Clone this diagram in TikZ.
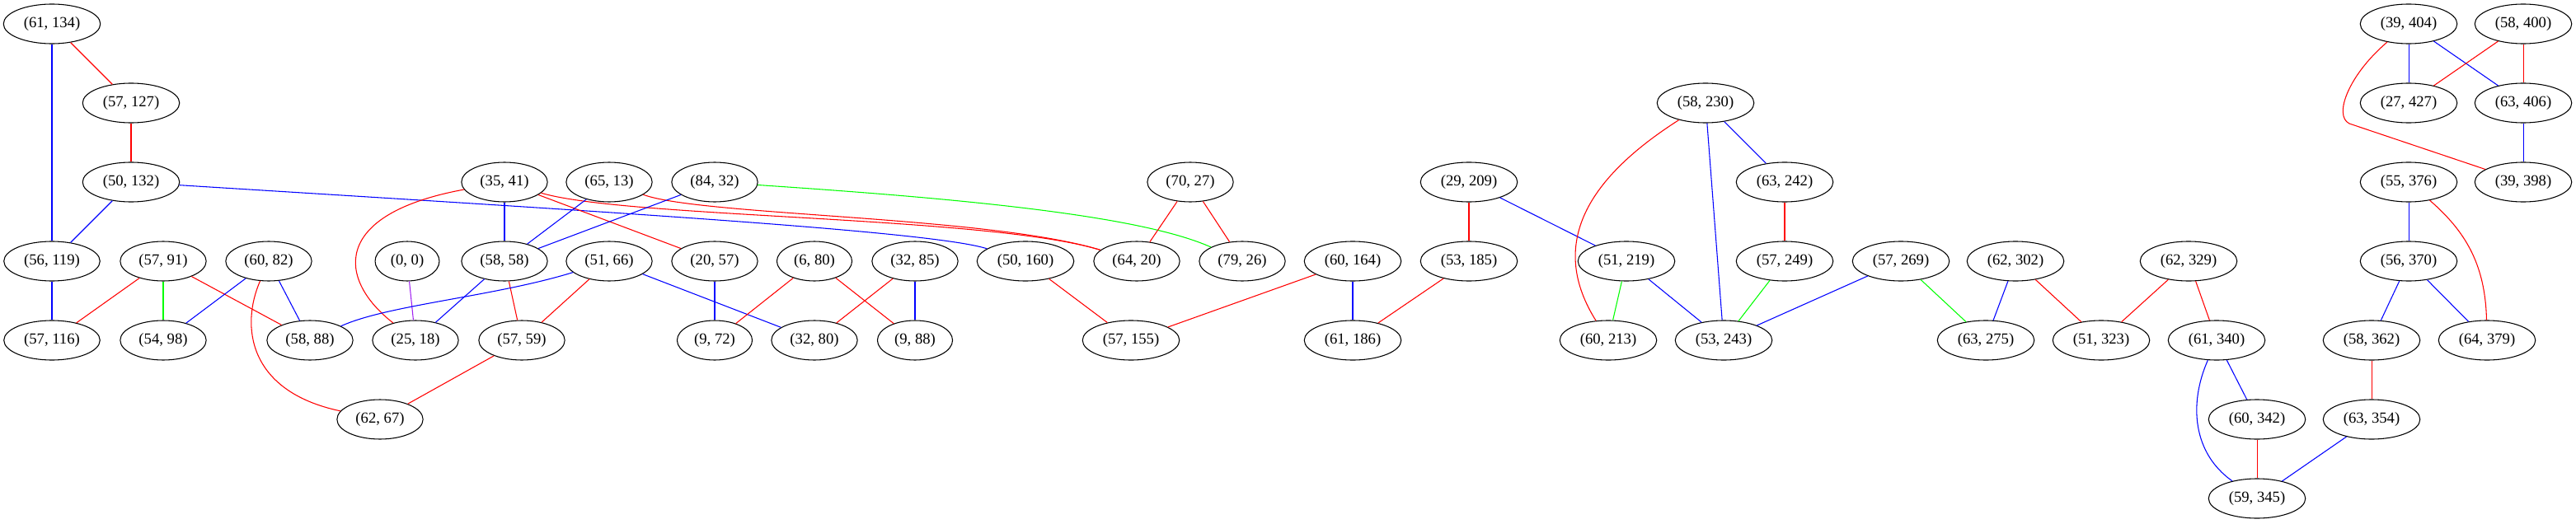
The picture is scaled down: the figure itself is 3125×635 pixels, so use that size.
\documentclass[tikz,border=0pt]{standalone}
\usepackage{fontspec}
\setmainfont{Liberation Serif}
\usetikzlibrary{shapes.geometric}
\definecolor{gvpurple}{HTML}{A020F0}

\begin{document}
\begin{tikzpicture}[x=0.75pt, y=-0.75pt,
    vert/.style={ellipse, draw, line width=0.8pt, inner xsep=5.5pt, inner ysep=0pt,
        minimum height=36pt, font=\fontsize{14}{16}\selectfont},
    e/.style={line width=0.8pt}]
    \useasboundingbox (0,0) rectangle (3125,635);
    \node[vert] (v61-134) at (63,29) {(61, 134)};
    \node[vert] (v39-404) at (2922,29) {(39, 404)};
    \node[vert] (v58-400) at (3061,29) {(58, 400)};
    \node[vert] (v57-127) at (159,125) {(57, 127)};
    \node[vert] (v58-230) at (2069,125) {(58, 230)};
    \node[vert] (v27-427) at (2922,125) {(27, 427)};
    \node[vert] (v63-406) at (3061,125) {(63, 406)};
    \node[vert] (v50-132) at (159,221) {(50, 132)};
    \node[vert] (v35-41) at (612,221) {(35, 41)};
    \node[vert] (v65-13) at (739,221) {(65, 13)};
    \node[vert] (v84-32) at (867,221) {(84, 32)};
    \node[vert] (v70-27) at (1444,221) {(70, 27)};
    \node[vert] (v29-209) at (1782,221) {(29, 209)};
    \node[vert] (v63-242) at (2165,221) {(63, 242)};
    \node[vert] (v55-376) at (2922,221) {(55, 376)};
    \node[vert] (v39-398) at (3061,221) {(39, 398)};
    \node[vert] (v56-119) at (63,317) {(56, 119)};
    \node[vert] (v57-91) at (198,317) {(57, 91)};
    \node[vert] (v60-82) at (326,317) {(60, 82)};
    \node[vert] (v0-0) at (494,317) {(0, 0)};
    \node[vert] (v58-58) at (612,317) {(58, 58)};
    \node[vert] (v51-66) at (739,317) {(51, 66)};
    \node[vert] (v20-57) at (867,317) {(20, 57)};
    \node[vert] (v6-80) at (988,317) {(6, 80)};
    \node[vert] (v32-85) at (1110,317) {(32, 85)};
    \node[vert] (v50-160) at (1244,317) {(50, 160)};
    \node[vert] (v64-20) at (1379,317) {(64, 20)};
    \node[vert] (v79-26) at (1507,317) {(79, 26)};
    \node[vert] (v60-164) at (1641,317) {(60, 164)};
    \node[vert] (v53-185) at (1782,317) {(53, 185)};
    \node[vert] (v51-219) at (1973,317) {(51, 219)};
    \node[vert] (v57-249) at (2165,317) {(57, 249)};
    \node[vert] (v57-269) at (2306,317) {(57, 269)};
    \node[vert] (v62-302) at (2445,317) {(62, 302)};
    \node[vert] (v62-329) at (2655,317) {(62, 329)};
    \node[vert] (v56-370) at (2922,317) {(56, 370)};
    \node[vert] (v57-116) at (63,413) {(57, 116)};
    \node[vert] (v54-98) at (198,413) {(54, 98)};
    \node[vert] (v58-88) at (376,413) {(58, 88)};
    \node[vert] (v25-18) at (504,413) {(25, 18)};
    \node[vert] (v57-59) at (633,413) {(57, 59)};
    \node[vert] (v9-72) at (867,413) {(9, 72)};
    \node[vert] (v32-80) at (988,413) {(32, 80)};
    \node[vert] (v9-88) at (1110,413) {(9, 88)};
    \node[vert] (v57-155) at (1372,413) {(57, 155)};
    \node[vert] (v61-186) at (1641,413) {(61, 186)};
    \node[vert] (v60-213) at (1951,413) {(60, 213)};
    \node[vert] (v53-243) at (2091,413) {(53, 243)};
    \node[vert] (v63-275) at (2409,413) {(63, 275)};
    \node[vert] (v51-323) at (2549,413) {(51, 323)};
    \node[vert] (v61-340) at (2689,413) {(61, 340)};
    \node[vert] (v58-362) at (2877,413) {(58, 362)};
    \node[vert] (v64-379) at (3017,413) {(64, 379)};
    \node[vert] (v62-67) at (461,509) {(62, 67)};
    \node[vert] (v60-342) at (2738,509) {(60, 342)};
    \node[vert] (v63-354) at (2877,509) {(63, 354)};
    \node[vert] (v59-345) at (2738,605) {(59, 345)};

    \draw[e, red] (v61-134) -- (v57-127);
    \draw[e, blue] (v61-134) -- (v56-119);
    \draw[e, red] (v57-127) -- (v50-132);
    \draw[e, blue] (v50-132) -- (v56-119);
    \draw[e, blue] (v50-132) .. controls (700,255) and (1130,280) .. (v50-160);
    \draw[e, blue] (v56-119) -- (v57-116);
    \draw[e, red] (v57-91) -- (v57-116);
    \draw[e, green] (v57-91) -- (v54-98);
    \draw[e, red] (v57-91) -- (v58-88);
    \draw[e, blue] (v60-82) -- (v54-98);
    \draw[e, blue] (v60-82) -- (v58-88);
    \draw[e, red] (v60-82) .. controls (292,395) and (300,475) .. (v62-67);
    \draw[e, gvpurple] (v0-0) -- (v25-18);
    \draw[e, red] (v35-41) .. controls (400,260) and (410,340) .. (v25-18);
    \draw[e, blue] (v35-41) -- (v58-58);
    \draw[e, red] (v35-41) -- (v20-57);
    \draw[e, red] (v35-41) .. controls (760,265) and (1200,262) .. (v64-20);
    \draw[e, blue] (v65-13) -- (v58-58);
    \draw[e, red] (v65-13) .. controls (850,262) and (1200,262) .. (v64-20);
    \draw[e, blue] (v84-32) -- (v58-58);
    \draw[e, green] (v84-32) .. controls (1150,240) and (1380,260) .. (v79-26);
    \draw[e, blue] (v58-58) -- (v25-18);
    \draw[e, red] (v58-58) -- (v57-59);
    \draw[e, blue] (v51-66) .. controls (600,360) and (470,370) .. (v58-88);
    \draw[e, red] (v51-66) -- (v57-59);
    \draw[e, blue] (v51-66) -- (v32-80);
    \draw[e, red] (v62-67) -- (v57-59);
    \draw[e, blue] (v20-57) -- (v9-72);
    \draw[e, red] (v6-80) -- (v9-72);
    \draw[e, red] (v6-80) -- (v9-88);
    \draw[e, red] (v32-85) -- (v32-80);
    \draw[e, blue] (v32-85) -- (v9-88);
    \draw[e, red] (v70-27) -- (v64-20);
    \draw[e, red] (v70-27) -- (v79-26);
    \draw[e, red] (v50-160) -- (v57-155);
    \draw[e, red] (v60-164) -- (v57-155);
    \draw[e, blue] (v60-164) -- (v61-186);
    \draw[e, red] (v53-185) -- (v61-186);
    \draw[e, red] (v29-209) -- (v53-185);
    \draw[e, blue] (v29-209) -- (v51-219);
    \draw[e, red] (v58-230) .. controls (1920,220) and (1880,300) .. (v60-213);
    \draw[e, blue] (v58-230) -- (v53-243);
    \draw[e, blue] (v58-230) -- (v63-242);
    \draw[e, red] (v63-242) -- (v57-249);
    \draw[e, green] (v51-219) -- (v60-213);
    \draw[e, blue] (v51-219) -- (v53-243);
    \draw[e, green] (v57-249) -- (v53-243);
    \draw[e, blue] (v57-269) -- (v53-243);
    \draw[e, green] (v57-269) -- (v63-275);
    \draw[e, blue] (v62-302) -- (v63-275);
    \draw[e, red] (v62-302) -- (v51-323);
    \draw[e, red] (v62-329) -- (v51-323);
    \draw[e, red] (v62-329) -- (v61-340);
    \draw[e, blue] (v61-340) -- (v60-342);
    \draw[e, blue] (v61-340) .. controls (2655,490) and (2660,550) .. (v59-345);
    \draw[e, red] (v60-342) -- (v59-345);
    \draw[e, blue] (v63-354) -- (v59-345);
    \draw[e, red] (v58-362) -- (v63-354);
    \draw[e, blue] (v56-370) -- (v58-362);
    \draw[e, blue] (v56-370) -- (v64-379);
    \draw[e, blue] (v55-376) -- (v56-370);
    \draw[e, red] (v55-376) .. controls (2990,280) and (3015,320) .. (v64-379);
    \draw[e, blue] (v39-404) -- (v27-427);
    \draw[e, blue] (v39-404) -- (v63-406);
    \draw[e, red] (v39-404) .. controls (2850,90) and (2830,140) .. (2850,150) -- (v39-398);
    \draw[e, red] (v58-400) -- (v27-427);
    \draw[e, red] (v58-400) -- (v63-406);
    \draw[e, blue] (v63-406) -- (v39-398);
\end{tikzpicture}
\end{document}
